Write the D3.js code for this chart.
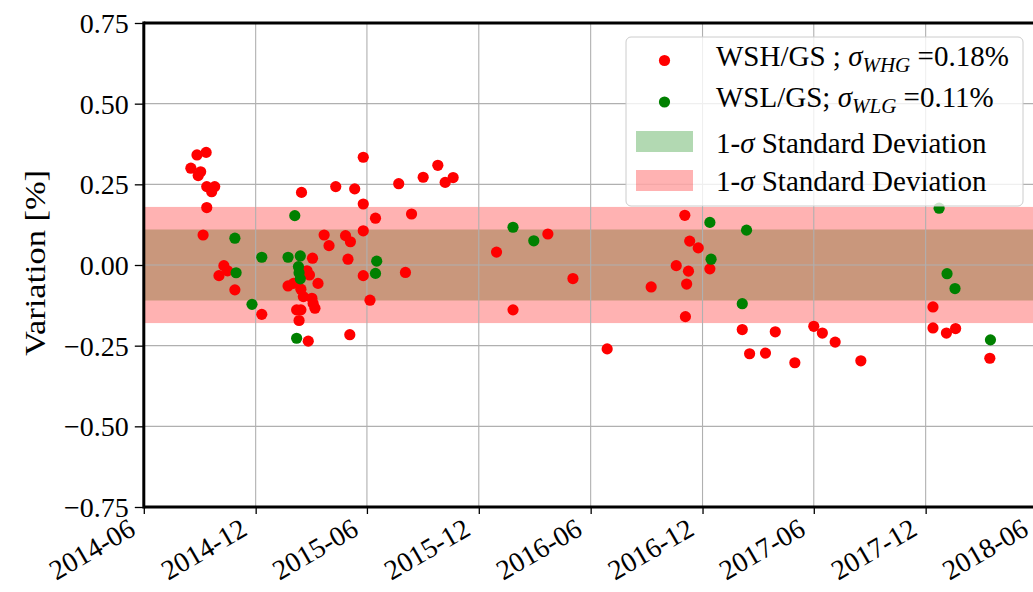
<!DOCTYPE html>
<html><head><meta charset="utf-8">
<script src="https://cdn.jsdelivr.net/npm/d3@7"></script>
<style>
body{margin:0;background:#fff}
svg{display:block}
text{font-family:"Liberation Serif","Times New Roman",serif;fill:#000}
</style>
</head><body>
<svg id="chart" width="1033" height="592"></svg>
<script>
// ---- data ----
const redDates = ["2014-08-17","2014-08-27","2014-09-11","2014-09-02","2014-08-29","2014-09-12","2014-09-25","2014-09-20","2014-09-12","2014-09-06",
"2014-10-10","2014-10-16","2014-10-02","2014-10-28","2014-12-11","2015-02-14","2015-03-04","2015-02-23","2015-02-27","2015-03-13",
"2015-01-23","2015-02-01","2015-02-13","2015-02-17","2015-03-03","2015-03-05","2015-03-08","2015-02-06","2015-02-13","2015-02-10",
"2015-02-25","2015-03-23","2015-03-31","2015-04-11","2015-05-12","2015-05-26","2015-05-26","2015-06-15","2015-05-26","2015-04-27",
"2015-05-05","2015-05-01","2015-05-26","2015-06-06","2015-05-04","2015-07-23","2015-09-01","2015-09-25","2015-10-07","2015-10-20",
"2015-08-13","2015-08-03","2015-12-30","2016-03-23","2016-05-03","2016-01-26","2016-06-28","2016-09-08","2016-10-19","2016-11-02",
"2016-11-10","2016-11-24","2016-11-08","2016-11-05","2016-12-13","2016-11-03","2017-02-04","2017-03-30","2017-02-16","2017-03-14",
"2017-05-01","2017-06-01","2017-06-15","2017-07-06","2017-08-17","2017-12-13","2017-12-13","2018-01-04","2018-01-19","2018-03-16"];
const redValues = [0.300,0.341,0.349,0.289,0.277,0.243,0.243,0.227,0.178,0.093,
-0.002,-0.018,-0.033,-0.077,-0.153,0.225,0.021,-0.018,-0.031,-0.057,
-0.065,-0.057,-0.075,-0.098,-0.103,-0.119,-0.134,-0.139,-0.139,-0.172,
-0.236,0.093,0.060,0.243,0.236,0.334,0.189,0.145,0.106,0.091,
0.072,0.018,-0.033,-0.109,-0.216,0.252,0.272,0.309,0.256,0.271,
0.158,-0.023,0.040,0.096,-0.042,-0.139,-0.260,-0.068,-0.002,0.154,
0.074,0.053,-0.019,-0.059,-0.012,-0.160,-0.200,-0.207,-0.275,-0.273,
-0.303,-0.190,-0.211,-0.239,-0.297,-0.130,-0.195,-0.211,-0.197,-0.289];
const greenDates = ["2014-10-28","2014-10-30","2014-12-11","2014-11-25","2015-02-03","2015-01-23","2015-02-12","2015-02-09","2015-02-10","2015-02-12",
"2015-02-06","2015-06-17","2015-06-15","2016-01-26","2016-02-29","2016-12-13","2017-02-11","2016-12-15","2017-02-04","2017-12-23",
"2018-01-05","2018-01-18","2018-03-17"];
const greenValues = [0.083,-0.024,0.024,-0.122,0.153,0.024,0.028,-0.005,-0.024,-0.043,
-0.227,0.012,-0.026,0.117,0.075,0.132,0.108,0.018,-0.120,0.176,
-0.027,-0.073,-0.232];
const sigmaWHG = 0.18;
const sigmaWLG = 0.11;
const yTicks = [-0.75,-0.50,-0.25,0.00,0.25,0.50,0.75];
const xTickLabels = ["2014-06","2014-12","2015-06","2015-12","2016-06","2016-12","2017-06","2017-12","2018-06"];
const xDomain = ["2014-06-01","2018-06-20"];

(function () {
// ---- layout ----
const svg = d3.select("#chart");
const parse = d3.utcParse("%Y-%m-%d");
const pL = 143.8, pT = 23, pB = 507;
const pxPerDay = 0.6113;
const d0 = parse(xDomain[0]), d1 = parse(xDomain[1]);
const x = d3.scaleUtc().domain([d0, d1]).range([pL, pL + pxPerDay * (d1 - d0) / 864e5]);
const y = d3.scaleLinear().domain([-0.75, 0.75]).range([pB, pT]);
const pR = x.range()[1];

svg.append("clipPath").attr("id", "plotclip").append("rect")
  .attr("x", pL).attr("y", pT).attr("width", pR - pL).attr("height", pB - pT);

const plot = svg.append("g").attr("clip-path", "url(#plotclip)");

// bands (green then red on top)
plot.append("rect").attr("x", pL).attr("width", pR - pL)
  .attr("y", y(sigmaWLG)).attr("height", y(-sigmaWLG) - y(sigmaWLG))
  .attr("fill", "green").attr("fill-opacity", 0.3);
plot.append("rect").attr("x", pL).attr("width", pR - pL)
  .attr("y", y(sigmaWHG)).attr("height", y(-sigmaWHG) - y(sigmaWHG))
  .attr("fill", "red").attr("fill-opacity", 0.3);

// grid
const xTickDates = xTickLabels.map(s => parse(s + "-01"));
plot.selectAll(".gx").data(xTickDates).enter().append("line")
  .attr("x1", d => x(d)).attr("x2", d => x(d)).attr("y1", pT).attr("y2", pB)
  .attr("stroke", "#b0b0b0").attr("stroke-width", 1.1);
plot.selectAll(".gy").data(yTicks).enter().append("line")
  .attr("y1", d => y(d)).attr("y2", d => y(d)).attr("x1", pL).attr("x2", pR)
  .attr("stroke", "#b0b0b0").attr("stroke-width", 1.1);

// points
const r = 5.6;
plot.selectAll(".rp").data(redDates.map((d, i) => [parse(d), redValues[i]])).enter().append("circle")
  .attr("cx", d => x(d[0])).attr("cy", d => y(d[1])).attr("r", r).attr("fill", "red");
plot.selectAll(".gp").data(greenDates.map((d, i) => [parse(d), greenValues[i]])).enter().append("circle")
  .attr("cx", d => x(d[0])).attr("cy", d => y(d[1])).attr("r", r).attr("fill", "green");

// axes
const fmtY = d => d3.format(".2f")(d).replace("-", "\u2212\u2004");
const yAxis = d3.axisLeft(y).tickValues(yTicks).tickSize(9).tickPadding(6).tickFormat(fmtY);
const gy = svg.append("g").attr("transform", `translate(${pL},0)`).call(yAxis);
gy.select(".domain").remove();
gy.selectAll(".tick line").attr("stroke", "#000").attr("stroke-width", 1.3);
gy.selectAll(".tick text").attr("font-size", 28).attr("font-family", '"Liberation Serif",serif').attr("dy", "0.34em");

const xAxis = d3.axisBottom(x).tickValues(xTickDates).tickSize(7).tickFormat(d3.utcFormat("%Y-%m"));
const gx = svg.append("g").attr("transform", `translate(0,${pB})`).call(xAxis);
gx.select(".domain").remove();
gx.selectAll(".tick line").attr("stroke", "#000").attr("stroke-width", 1.3);
gx.selectAll(".tick text")
  .attr("font-size", 28).attr("font-family", '"Liberation Serif",serif')
  .attr("text-anchor", "end").attr("y", 0).attr("dy", "0.7em")
  .attr("transform", "translate(-17,10) rotate(-30)");

// spines
const spine = svg.append("g").attr("stroke", "#000").attr("stroke-width", 3).attr("fill", "none");
spine.append("line").attr("x1", pL).attr("x2", pL).attr("y1", pT - 1.5).attr("y2", pB + 1.5);
spine.append("line").attr("x1", pL).attr("x2", pR).attr("y1", pT).attr("y2", pT);
spine.append("line").attr("x1", pL).attr("x2", pR).attr("y1", pB).attr("y2", pB);
spine.append("line").attr("x1", pR).attr("x2", pR).attr("y1", pT).attr("y2", pB);

// y label
svg.append("text").attr("transform", "translate(45,263) rotate(-90)")
  .attr("text-anchor", "middle").attr("font-size", 30)
  .attr("textLength", 186).attr("lengthAdjust", "spacingAndGlyphs").text("Variation [%]");

// legend
const lg = svg.append("g");
lg.append("rect").attr("x", 626).attr("y", 37).attr("width", 397).attr("height", 169).attr("rx", 5)
  .attr("fill", "#fff").attr("fill-opacity", 0.8).attr("stroke", "#cccccc").attr("stroke-width", 1);
lg.append("circle").attr("cx", 664.5).attr("cy", 60.5).attr("r", r).attr("fill", "red");
lg.append("circle").attr("cx", 664.5).attr("cy", 102).attr("r", r).attr("fill", "green");
lg.append("rect").attr("x", 636).attr("y", 131).attr("width", 57).attr("height", 21)
  .attr("fill", "green").attr("fill-opacity", 0.3);
lg.append("rect").attr("x", 636).attr("y", 170).attr("width", 57).attr("height", 21)
  .attr("fill", "red").attr("fill-opacity", 0.3);

function mathLabel(yb, pre, sub, post) {
  const t = lg.append("text").attr("x", 716).attr("y", yb).attr("font-size", 29);
  t.append("tspan").text(pre);
  t.append("tspan").attr("font-style", "italic").text("\u03C3");
  t.append("tspan").attr("font-style", "italic").attr("font-size", 21).attr("dy", 6).text(sub);
  t.append("tspan").attr("dy", -6).text(" =" + post);
}
mathLabel(66, "WSH/GS ; ", "WHG", "0.18%");
mathLabel(107, "WSL/GS; ", "WLG", "0.11%");
[153, 191].forEach(yb => {
  const t = lg.append("text").attr("x", 716).attr("y", yb).attr("font-size", 29);
  t.append("tspan").text("1-");
  t.append("tspan").attr("font-style", "italic").text("\u03C3");
  t.append("tspan").text(" Standard Deviation");
});
})();
</script>
</body></html>
